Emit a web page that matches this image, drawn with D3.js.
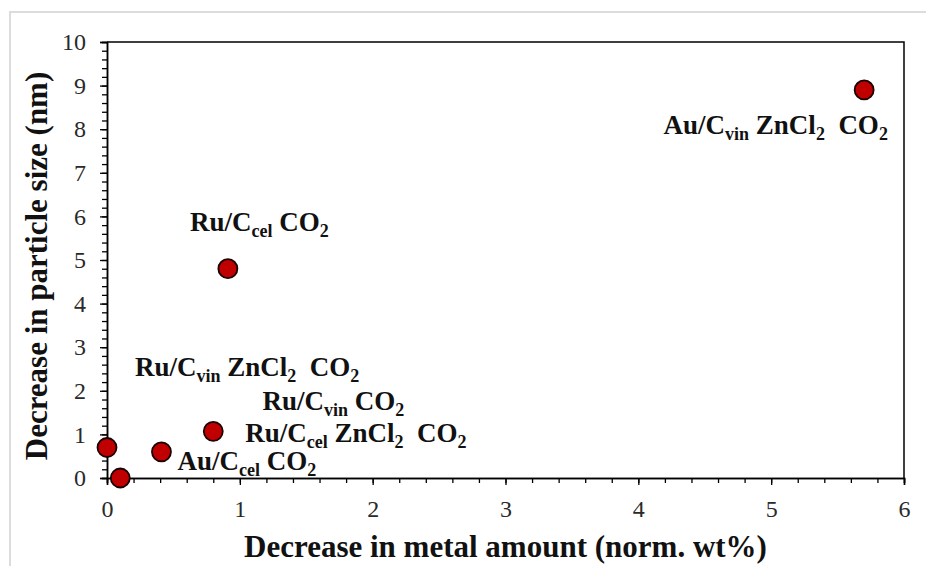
<!DOCTYPE html>
<html>
<head>
<meta charset="utf-8">
<script src="https://cdn.jsdelivr.net/npm/d3@7/dist/d3.min.js"></script>
<style>
  html, body { margin: 0; padding: 0; background: #fff; }
  svg { display: block; }
</style>
</head>
<body>
<svg id="chart" width="926" height="566"></svg>
<script>
// Measured samples: decrease in metal amount vs. decrease in particle size
const metalDecrease = [0, 0.1, 0.41, 0.8, 0.91, 5.7];
const sizeDecrease  = [0.7, 0, 0.6, 1.07, 4.8, 8.9];

// Sample annotations: each label is a list of [text, isSubscript] runs
const labelRuns = [
  [["Au/C", false], ["vin", true], [" ZnCl", false], ["2", true], ["  CO", false], ["2", true]],
  [["Ru/C", false], ["cel", true], [" CO", false], ["2", true]],
  [["Ru/C", false], ["vin", true], [" ZnCl", false], ["2", true], ["  CO", false], ["2", true]],
  [["Ru/C", false], ["vin", true], [" CO", false], ["2", true]],
  [["Ru/C", false], ["cel", true], [" ZnCl", false], ["2", true], ["  CO", false], ["2", true]],
  [["Au/C", false], ["cel", true], [" CO", false], ["2", true]]
];
// Label anchors (start of text, baseline) in data units
const labelX = [4.19, 0.625, 0.21, 1.17, 1.04, 0.53];
const labelY = [7.89, 5.67, 2.33, 1.56, 0.82, 0.18];

const xTicks = [0, 1, 2, 3, 4, 5, 6];
const yTicks = [0, 1, 2, 3, 4, 5, 6, 7, 8, 9, 10];
const xTitle = "Decrease in metal amount (norm. wt%)";
const yTitle = "Decrease in particle size (nm)";

const svg = d3.select("#chart");
const W = 926, H = 566;
const plot = { left: 107, right: 904, top: 42, bottom: 478 };

const x = d3.scaleLinear().domain([0, 6]).range([plot.left, plot.right]);
const y = d3.scaleLinear().domain([0, 10]).range([plot.bottom, plot.top]);

const serif = "'Liberation Serif', 'Times New Roman', serif";

// outer light frame
svg.append("path")
  .attr("d", `M10,${H} L10,12 L${W},12`)
  .attr("fill", "none")
  .attr("stroke", "#dcdcdc")
  .attr("stroke-width", 2);

// plot frame (top and right edges)
svg.append("path")
  .attr("d", `M${plot.left},${plot.top} L${plot.right},${plot.top} L${plot.right},${plot.bottom}`)
  .attr("fill", "none")
  .attr("stroke", "#000")
  .attr("stroke-width", 1.5);

// minor ticks every 0.2
const xMinor = d3.range(0, 6.0001, 0.2);
const yMinor = d3.range(0, 10.0001, 0.2);

const xAxisMinor = d3.axisBottom(x).tickValues(xMinor).tickSize(5).tickFormat("");
const yAxisMinor = d3.axisLeft(y).tickValues(yMinor).tickSize(5).tickFormat("");

const gxm = svg.append("g").attr("transform", `translate(0,${plot.bottom})`).call(xAxisMinor);
const gym = svg.append("g").attr("transform", `translate(${plot.left},0)`).call(yAxisMinor);

const xAxis = d3.axisBottom(x).tickValues(xTicks).tickSize(7).tickPadding(15).tickFormat(d3.format("d"));
const yAxis = d3.axisLeft(y).tickValues(yTicks).tickSize(7).tickPadding(14).tickFormat(d3.format("d"));

const gx = svg.append("g").attr("transform", `translate(0,${plot.bottom})`).call(xAxis);
const gy = svg.append("g").attr("transform", `translate(${plot.left},0)`).call(yAxis);

[gxm, gym, gx, gy].forEach(g => {
  g.attr("font-family", serif).attr("font-size", 24);
  g.selectAll(".domain").attr("stroke", "#000").attr("stroke-width", 1.5);
  g.selectAll(".tick line").attr("stroke", "#000").attr("stroke-width", 1.3);
  g.selectAll(".tick text").attr("fill", "#2a2a2a");
});

// axis titles
svg.append("text")
  .attr("x", (plot.left + plot.right) / 2)
  .attr("y", 557)
  .attr("text-anchor", "middle")
  .attr("font-family", serif)
  .attr("font-weight", "bold")
  .attr("font-size", 31)
  .attr("fill", "#111")
  .text(xTitle);

svg.append("text")
  .attr("transform", "translate(47,266) rotate(-90)")
  .attr("text-anchor", "middle")
  .attr("font-family", serif)
  .attr("font-weight", "bold")
  .attr("font-size", 31)
  .attr("fill", "#111")
  .text(yTitle);

// sample labels
labelRuns.forEach((runs, i) => {
  const t = svg.append("text")
    .attr("x", x(labelX[i]))
    .attr("y", y(labelY[i]))
    .attr("font-family", serif)
    .attr("font-weight", "bold")
    .attr("font-size", 27)
    .attr("fill", "#111")
    .attr("xml:space", "preserve")
    .style("white-space", "pre");
  let shifted = false;
  runs.forEach(([txt, sub]) => {
    const ts = t.append("tspan").text(txt);
    if (sub && !shifted) { ts.attr("dy", 6); shifted = true; }
    else if (!sub && shifted) { ts.attr("dy", -6); shifted = false; }
    if (sub) ts.attr("font-size", 18);
  });
});

// data points
svg.append("g")
  .selectAll("circle")
  .data(metalDecrease.map((v, i) => [v, sizeDecrease[i]]))
  .join("circle")
  .attr("cx", d => x(d[0]))
  .attr("cy", d => y(d[1]))
  .attr("r", 9.5)
  .attr("fill", "#c00000")
  .attr("stroke", "#1a0000")
  .attr("stroke-width", 1.8);
</script>
</body>
</html>
